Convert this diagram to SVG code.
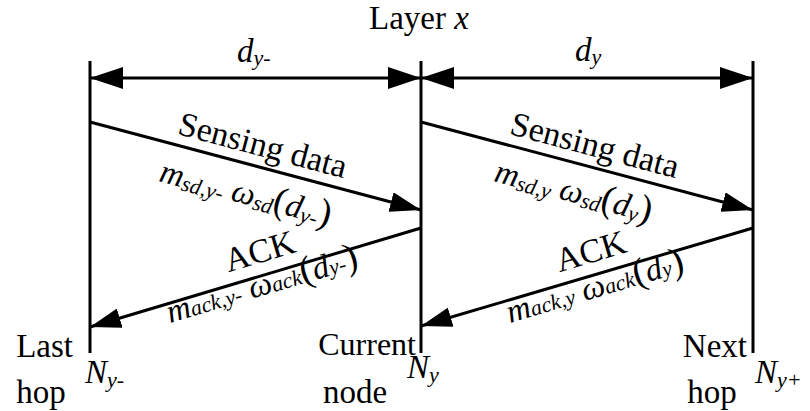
<svg xmlns="http://www.w3.org/2000/svg" width="810" height="411" viewBox="0 0 810 411" font-family="Liberation Serif">
<style>
  .line { stroke: #000; stroke-width: 3; fill: none; }
  .life { stroke: #000; stroke-width: 3; }
</style>
<defs>
  <marker id="ah" markerUnits="userSpaceOnUse" markerWidth="33" markerHeight="22" refX="33" refY="11" orient="auto-start-reverse" viewBox="0 0 33 22">
    <path d="M0,0 L33,11 L0,22 z" fill="#000"/>
  </marker>
  <marker id="ah2" markerUnits="userSpaceOnUse" markerWidth="31" markerHeight="20" refX="31" refY="10" orient="auto" viewBox="0 0 31 20">
    <path d="M0,0 L31,10 L0,20 z" fill="#000"/>
  </marker>
</defs>

<rect width="810" height="411" fill="#fff"/>

<text id="title" x="369" y="29" font-family="Liberation Serif" font-size="33" fill="#000">Layer <tspan font-style="italic">x</tspan></text>

<g id="node-last">
  <line class="life" x1="90" y1="61" x2="90" y2="353"/>
  <text x="73" y="357" text-anchor="end" font-family="Liberation Serif" font-size="33" fill="#000">Last</text>
  <text x="41" y="403" text-anchor="middle" font-family="Liberation Serif" font-size="33" fill="#000">hop</text>
  <text x="85" y="383" font-family="Liberation Serif" font-size="33" font-style="italic" fill="#000">N<tspan font-size="22" dy="4">y-</tspan></text>
</g>

<g id="node-current">
  <line class="life" x1="421" y1="61" x2="421" y2="353"/>
  <text x="416" y="355" text-anchor="end" font-family="Liberation Serif" font-size="32" fill="#000">Current</text>
  <text x="355" y="403" text-anchor="middle" font-family="Liberation Serif" font-size="33" fill="#000">node</text>
  <text x="407" y="378" font-family="Liberation Serif" font-size="33" font-style="italic" fill="#000">N<tspan font-size="22" dy="4">y</tspan></text>
</g>

<g id="node-next">
  <line class="life" x1="753" y1="61" x2="753" y2="353"/>
  <text x="747" y="357" text-anchor="end" font-family="Liberation Serif" font-size="33" fill="#000">Next</text>
  <text x="712" y="403" text-anchor="middle" font-family="Liberation Serif" font-size="33" fill="#000">hop</text>
  <text x="755" y="383" font-family="Liberation Serif" font-size="33" font-style="italic" fill="#000">N<tspan font-size="22" dy="4">y+</tspan></text>
</g>

<g id="connectors">
  <line class="line" x1="90" y1="78" x2="421" y2="78" marker-start="url(#ah)" marker-end="url(#ah)"/>
  <line class="line" x1="421" y1="78" x2="753" y2="78" marker-start="url(#ah)" marker-end="url(#ah)"/>
  <line class="line" x1="90" y1="122" x2="421" y2="210" marker-end="url(#ah2)"/>
  <line class="line" x1="421" y1="228" x2="90" y2="327" marker-end="url(#ah2)"/>
  <line class="line" x1="421" y1="122" x2="753" y2="210" marker-end="url(#ah2)"/>
  <line class="line" x1="753" y1="228" x2="421" y2="326" marker-end="url(#ah2)"/>
</g>

<g id="labels">
  <text x="237" y="62" font-family="Liberation Serif" font-size="33" font-style="italic" fill="#000">d<tspan font-size="22" dy="3">y-</tspan></text>
  <text x="575" y="61" font-family="Liberation Serif" font-size="33" font-style="italic" fill="#000">d<tspan font-size="22" dy="3">y</tspan></text>

  <text x="260" y="156" text-anchor="middle" transform="rotate(14.9 260 156)" font-family="Liberation Serif" font-size="34" fill="#000">Sensing data</text>
  <text x="158" y="181" transform="rotate(14.9 158 181)" font-family="Liberation Serif" font-size="33" font-style="italic" fill="#000">m<tspan font-size="22" dy="3">sd,y-</tspan><tspan dy="-3"> ω</tspan><tspan font-size="22" dy="3">sd</tspan><tspan font-size="38" font-style="normal" dy="-3">(</tspan>d<tspan font-size="22" dy="3">y-</tspan><tspan font-size="38" font-style="normal" dy="-3">)</tspan></text>

  <text x="592" y="156" text-anchor="middle" transform="rotate(14.9 592 156)" font-family="Liberation Serif" font-size="34" fill="#000">Sensing data</text>
  <text x="493" y="181" transform="rotate(14.9 493 181)" font-family="Liberation Serif" font-size="33" font-style="italic" fill="#000">m<tspan font-size="22" dy="3">sd,y</tspan><tspan dy="-3"> ω</tspan><tspan font-size="22" dy="3">sd</tspan><tspan font-size="38" font-style="normal" dy="-3">(</tspan>d<tspan font-size="22" dy="3">y</tspan><tspan font-size="38" font-style="normal" dy="-3">)</tspan></text>

  <text x="263" y="262" text-anchor="middle" transform="rotate(-16.5 263 262)" font-family="Liberation Serif" font-size="34" fill="#000">ACK</text>
  <text x="170" y="323" transform="rotate(-16.5 170 323)" font-family="Liberation Serif" font-size="33" font-style="italic" fill="#000">m<tspan font-size="22">ack,y-</tspan> ω<tspan font-size="22">ack</tspan><tspan font-size="38" font-style="normal">(</tspan>d<tspan font-size="22">y-</tspan><tspan font-size="38" font-style="normal">)</tspan></text>

  <text x="594" y="262" text-anchor="middle" transform="rotate(-16.5 594 262)" font-family="Liberation Serif" font-size="34" fill="#000">ACK</text>
  <text x="510" y="323" transform="rotate(-16.5 510 323)" font-family="Liberation Serif" font-size="33" font-style="italic" fill="#000">m<tspan font-size="22">ack,y</tspan> ω<tspan font-size="22">ack</tspan><tspan font-size="38" font-style="normal">(</tspan>d<tspan font-size="22">y</tspan><tspan font-size="38" font-style="normal">)</tspan></text>
</g>
</svg>
